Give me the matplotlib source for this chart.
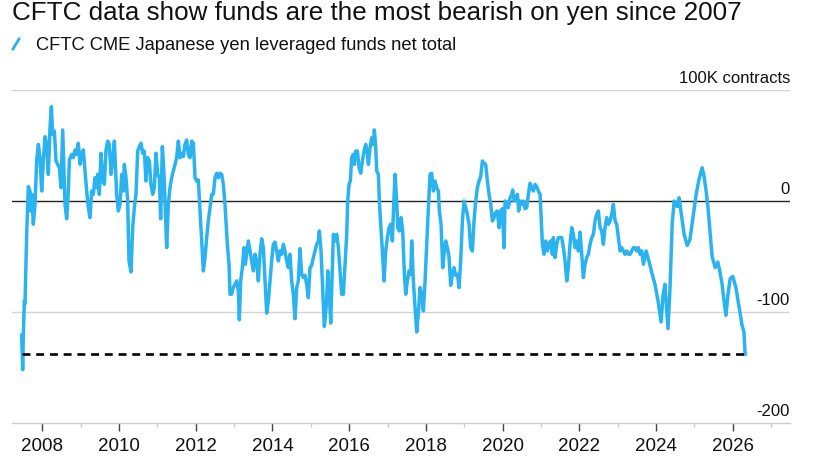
import matplotlib
matplotlib.use("Agg")
import matplotlib.pyplot as plt
from matplotlib.lines import Line2D
import matplotlib.transforms as mtransforms
import numpy as np

plt.rcParams['font.family'] = ['Liberation Sans', 'DejaVu Sans']

# CFTC CME yen, leveraged funds net total, thousand contracts
yrs_a = [2007.462, 2007.488, 2007.506, 2007.532, 2007.549, 2007.592, 2007.636, 2007.679, 2007.697, 2007.723,
         2007.766, 2007.810, 2007.853, 2007.897, 2007.940, 2007.984, 2008.027, 2008.070, 2008.114, 2008.157,
         2008.201, 2008.236, 2008.270, 2008.314, 2008.357, 2008.401, 2008.444, 2008.487, 2008.531, 2008.566,
         2008.592, 2008.635, 2008.679, 2008.705, 2008.766, 2008.809, 2008.852, 2008.896, 2008.939, 2008.983,
         2009.026, 2009.070, 2009.113, 2009.157, 2009.200, 2009.243, 2009.287, 2009.330, 2009.374, 2009.417,
         2009.443, 2009.487, 2009.530, 2009.574, 2009.617, 2009.661, 2009.704, 2009.747, 2009.791, 2009.834,
         2009.878]
net_a = [-121, -152, -119, -90, -93, -30, 13, 9, -9, 6,
         -21, -3, 36, 51, 39, 9, 36, 58, 51, 24,
         66, 85, 60, 63, 36, 33, 30, 12, 64, 24,
         -3, -16, 9, 37, 42, 39, 46, 42, 52, 33,
         43, 46, 27, 9, -6, -15, 9, 6, 21, 12,
         24, 6, 43, 18, 15, 46, 54, 51, 24, 36,
         54]

yrs_b = [2009.938, 2009.982, 2010.025, 2010.069, 2010.112, 2010.138, 2010.182, 2010.225, 2010.260, 2010.312,
         2010.356, 2010.399, 2010.442, 2010.486, 2010.529, 2010.573, 2010.616, 2010.660, 2010.703, 2010.747,
         2010.790, 2010.833, 2010.877, 2010.920, 2010.964, 2011.007, 2011.051, 2011.085, 2011.129, 2011.172,
         2011.198, 2011.242, 2011.285, 2011.329, 2011.372, 2011.416, 2011.459, 2011.503, 2011.546, 2011.589,
         2011.633, 2011.676, 2011.720, 2011.763, 2011.807, 2011.850, 2011.894, 2011.937, 2011.981, 2012.024,
         2012.067, 2012.111, 2012.154, 2012.198, 2012.241, 2012.285, 2012.328, 2012.372, 2012.415, 2012.458,
         2012.502, 2012.545, 2012.589]
net_b = [6, -9, -3, 24, 9, 33, 21, 0, -54, -64,
         -24, -6, 6, 45, 49, 52, 43, 45, 18, 39,
         36, 15, 6, 12, 43, 24, 21, -16, 49, 24,
         0, -42, -3, 12, 21, 27, 33, 39, 54, 39,
         43, 40, 51, 55, 42, 39, 54, 52, 21, 18,
         19, -9, -36, -63, -51, -33, -18, -6, 6, 6,
         21, 25, 21]

yrs_c = [2012.632, 2012.675, 2012.719, 2012.762, 2012.788, 2012.823, 2012.867, 2012.893, 2012.936, 2012.980,
         2013.023, 2013.066, 2013.110, 2013.136, 2013.171, 2013.214, 2013.258, 2013.292, 2013.327, 2013.371,
         2013.414, 2013.458, 2013.501, 2013.544, 2013.588, 2013.631, 2013.675, 2013.718, 2013.762, 2013.805,
         2013.849, 2013.892, 2013.935, 2013.979, 2014.022, 2014.066, 2014.109, 2014.153, 2014.196, 2014.240,
         2014.283, 2014.326, 2014.370, 2014.413, 2014.457, 2014.500, 2014.544, 2014.587, 2014.631, 2014.674,
         2014.717, 2014.761, 2014.804, 2014.848, 2014.891, 2014.935, 2014.978, 2015.022, 2015.065, 2015.109,
         2015.152, 2015.195, 2015.221, 2015.265, 2015.308, 2015.352]
net_c = [25, 24, 15, -3, -18, -39, -57, -84, -84, -78,
         -75, -72, -81, -107, -72, -60, -42, -57, -48, -36,
         -45, -54, -63, -48, -54, -72, -48, -34, -42, -72,
         -101, -90, -72, -54, -39, -37, -45, -54, -45, -48,
         -39, -45, -54, -60, -48, -72, -84, -106, -78, -72,
         -43, -66, -69, -67, -75, -87, -60, -58, -51, -45,
         -39, -36, -27, -45, -78, -113]

yrs_d = [2015.370, 2015.413, 2015.440, 2015.474, 2015.518, 2015.544, 2015.587, 2015.631, 2015.674, 2015.718,
         2015.761, 2015.804, 2015.848, 2015.891, 2015.935, 2015.961, 2015.996, 2016.030, 2016.065, 2016.109,
         2016.135, 2016.169, 2016.213, 2016.256, 2016.300, 2016.343, 2016.387, 2016.430, 2016.474, 2016.500,
         2016.543, 2016.587, 2016.630, 2016.656, 2016.691, 2016.717, 2016.760, 2016.786, 2016.821, 2016.865,
         2016.908, 2016.952, 2016.995, 2017.038, 2017.082, 2017.125, 2017.160, 2017.195, 2017.238, 2017.264,
         2017.308, 2017.351, 2017.395, 2017.438, 2017.473, 2017.516, 2017.560, 2017.603, 2017.629, 2017.673,
         2017.716, 2017.760, 2017.803, 2017.847, 2017.890, 2017.933, 2017.977, 2018.020, 2018.064]
net_d = [-107, -90, -63, -78, -110, -81, -30, -36, -30, -42,
         -63, -84, -84, -57, -30, 0, 15, 18, 39, 42,
         33, 45, 45, 30, 25, 36, 45, 51, 42, 33,
         48, 57, 51, 64, 48, 27, 24, 0, -21, -45,
         -72, -45, -33, -24, -21, -36, -3, 24, 0, -24,
         -27, -15, -27, -66, -84, -72, -63, -66, -36, -72,
         -96, -118, -101, -78, -84, -99, -72, -39, -6]

yrs_e = [2018.107, 2018.150, 2018.194, 2018.237, 2018.281, 2018.324, 2018.350, 2018.394, 2018.437, 2018.472,
         2018.515, 2018.559, 2018.602, 2018.646, 2018.689, 2018.733, 2018.776, 2018.820, 2018.863, 2018.906,
         2018.950, 2018.993, 2019.037, 2019.080, 2019.124, 2019.167, 2019.211, 2019.254, 2019.297, 2019.341,
         2019.384, 2019.428, 2019.471, 2019.515, 2019.558, 2019.602, 2019.645, 2019.689, 2019.732, 2019.775,
         2019.819, 2019.862, 2019.906, 2019.949, 2019.993, 2020.036, 2020.062, 2020.106, 2020.149, 2020.193,
         2020.236, 2020.262, 2020.297, 2020.340, 2020.384, 2020.418, 2020.453, 2020.497, 2020.540, 2020.583,
         2020.627, 2020.670, 2020.714, 2020.757, 2020.801]
net_e = [24, 25, 9, 18, 12, 9, -9, -21, -60, -48,
         -36, -42, -51, -76, -66, -60, -67, -66, -78, -54,
         -18, 0, -6, -12, -21, -42, -45, -18, 0, 12,
         18, 22, 36, 34, 33, 18, 6, -3, -18, -15,
         -10, -9, -24, -9, -7, -42, 0, -1, -6, 3,
         6, 10, 0, 1, 6, -9, 0, -3, 0, -7,
         -6, 6, 16, 12, 9]

yrs_f = [2020.844, 2020.887, 2020.931, 2020.974, 2021.000, 2021.035, 2021.079, 2021.122, 2021.166, 2021.209,
         2021.252, 2021.296, 2021.322, 2021.365, 2021.409, 2021.452, 2021.496, 2021.539, 2021.583, 2021.626,
         2021.670, 2021.713, 2021.756, 2021.800, 2021.843, 2021.887, 2021.930, 2021.974, 2022.017, 2022.061,
         2022.104, 2022.148, 2022.191, 2022.234, 2022.278, 2022.321, 2022.365, 2022.408, 2022.452, 2022.495,
         2022.539, 2022.582, 2022.625, 2022.669, 2022.712, 2022.756, 2022.799, 2022.843, 2022.886, 2022.930,
         2022.973, 2023.016, 2023.060, 2023.103, 2023.147, 2023.190, 2023.234, 2023.277, 2023.321, 2023.364,
         2023.407, 2023.451, 2023.494, 2023.538, 2023.581, 2023.625, 2023.668]
net_f = [15, 13, 9, 6, -12, -39, -48, -36, -45, -39,
         -36, -48, -33, -51, -39, -33, -33, -33, -42, -54,
         -72, -60, -39, -24, -30, -42, -36, -45, -28, -48,
         -69, -57, -51, -48, -39, -33, -30, -18, -12, -9,
         -24, -27, -39, -24, -15, -21, -18, -12, -3, -18,
         -21, -33, -45, -42, -45, -48, -45, -48, -48, -45,
         -42, -42, -45, -42, -48, -45, -57]

yrs_g = [2023.74, 2023.82, 2023.89, 2023.97, 2024.05, 2024.13, 2024.18, 2024.23, 2024.31, 2024.36,
         2024.42, 2024.47, 2024.55, 2024.60, 2024.65, 2024.73, 2024.81, 2024.88, 2024.96, 2025.04,
         2025.12, 2025.20, 2025.25, 2025.30, 2025.35, 2025.41, 2025.46, 2025.54, 2025.61, 2025.67,
         2025.72, 2025.77, 2025.82, 2025.87, 2025.93, 2026.00, 2026.08, 2026.16, 2026.24, 2026.29,
         2026.32]
net_g = [-45, -55, -65, -75, -90, -109, -85, -75, -115, -80,
         -20, 0, -5, 3, -10, -30, -40, -35, -15, 5,
         20, 30, 22, 10, -5, -30, -50, -60, -55, -65,
         -75, -90, -103, -85, -70, -68, -78, -95, -112, -118,
         -138]

latest_level = -138
y_labels = ['100K contracts', '0', '-100', '-200']
y_levels = [100, 0, -100, -200]
major_years = list(range(2008, 2027, 2))
minor_years = list(range(2009, 2028, 2))

title = 'CFTC data show funds are the most bearish on yen since 2007'
series_name = 'CFTC CME Japanese yen leveraged funds net total'

blue = '#2bb3ef'
ink = '#111111'

years = np.array(yrs_a + yrs_b + yrs_c + yrs_d + yrs_e + yrs_f + yrs_g)
net = np.array(net_a + net_b + net_c + net_d + net_e + net_f + net_g)

fig = plt.figure(figsize=(8.2, 4.6), dpi=100)
ax = fig.add_axes([12 / 820, 1 - 424 / 460, 778 / 820, 333 / 460])

ax.set_xlim(2007.21, 2027.49)
ax.set_ylim(-200, 100)

for lvl in [100, -100]:
    ax.axhline(lvl, color='#d4d4d4', lw=1.0, zorder=1)
ax.axhline(0, color='#222222', lw=1.0, zorder=2)

ax.plot(years, net, color=blue, lw=2.5, solid_joinstyle='round', zorder=3)
ax.hlines(latest_level, years[0], years[-1], colors='black', linestyles=(0, (3.0, 2.2)), lw=1.9, zorder=4)

for s in ['top', 'left', 'right']:
    ax.spines[s].set_visible(False)
ax.spines['bottom'].set_color('#cccccc')
ax.spines['bottom'].set_linewidth(1.0)

ax.set_yticks([])
ax.set_xticks(major_years)
ax.set_xticklabels([str(y) for y in major_years])
ax.set_xticks(minor_years, minor=True)
ax.tick_params(axis='x', which='major', length=6, width=1, color='#444444', pad=4,
               labelsize=13.5, labelcolor=ink)
ax.tick_params(axis='x', which='minor', length=3, width=1, color='#cccccc')

trans = mtransforms.blended_transform_factory(ax.transAxes, ax.transData)
for lab, lvl in zip(y_labels, y_levels):
    ax.annotate(lab, xy=(1.0, lvl), xycoords=trans, xytext=(0, 6), textcoords='offset points',
                ha='right', va='baseline', fontsize=12, color=ink)

fig.text(12 / 820, 1 - 13 / 460, title, ha='left', va='center', fontsize=18.7, color=ink)
fig.add_artist(Line2D([13 / 820, 19 / 820], [1 - 50 / 460, 1 - 40 / 460], color=blue, lw=2.0,
                      transform=fig.transFigure))
fig.text(36 / 820, 1 - 45 / 460, series_name, ha='left', va='center', fontsize=13.2, color=ink)

fig.savefig('out.png', dpi=100, facecolor='white')
